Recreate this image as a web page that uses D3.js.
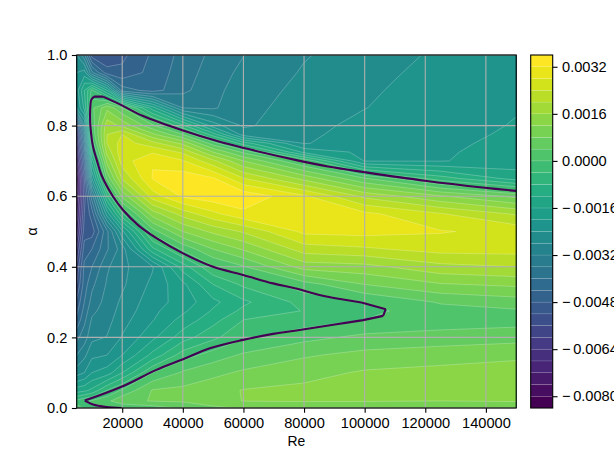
<!DOCTYPE html>
<html>
<head>
<meta charset="utf-8">
<script src="https://cdn.jsdelivr.net/npm/d3@7"></script>
<style>
  html, body { margin: 0; padding: 0; background: #fff; overflow: hidden; }
  text { font-family: "Liberation Sans", Arial, sans-serif; fill: #000; }
</style>
</head>
<body>
<svg id="chart" width="614" height="459"></svg>
<script>
// growth rate grid, values in units of 1e-4, rows follow alphaValues and columns follow reValues
const reValues = [5000, 7500, 10000, 15000, 20000, 30000, 40000, 50000, 60000, 80000, 100000, 125000, 150000]
const alphaValues = [0, 0.02, 0.05, 0.1, 0.15, 0.2, 0.25, 0.275, 0.3, 0.35, 0.4, 0.45, 0.5, 0.55, 0.6, 0.65, 0.7, 0.725, 0.75, 0.775, 0.8, 0.85, 0.9, 0.95, 1]
const growthRate = [
  [3, -1, -1, -0.5, 0.2, 2, 5, 7, 8.5, 9, 9.5, 10, 10],
  [-3, -1, 0.5, 3, 7, 8.2, 8.5, 10.5, 12.1, 12.3, 12.2, 12, 12.2],
  [-14, -13, -11, -4, 0.6, 8.3, 9, 10.5, 12.2, 13, 14, 14, 13.8],
  [-26, -24, -20, -18, -12, 0, 4.6, 6.9, 8.7, 10.6, 12.5, 13.4, 13.8],
  [-32, -29, -25, -24, -20, -10.8, -2, 1.9, 4.6, 7.5, 9.2, 10, 11.2],
  [-37, -34, -29, -27.8, -23.7, -17, -9.8, -5, -0.6, 2.8, 5, 6, 6.5],
  [-43, -37, -31.5, -29.5, -25.5, -20.3, -14.6, -9.5, -4, -2.5, 0, 1.3, 2.2],
  [-45, -38.5, -33, -30, -26.5, -21, -16.8, -11.5, -7, -3.8, -1.2, 2.5, 3.5],
  [-47, -40, -34.5, -30.5, -27.2, -21.7, -18.4, -13, -8.8, -2.6, 0.1, 4.4, 6.1],
  [-52, -42, -37, -31.5, -28.7, -23, -17, -8, -3.2, 2.2, 8, 11.6, 12.8],
  [-55, -43, -40, -32.6, -29, -24.4, -10, -0.3, 3.6, 13.8, 14.7, 18.8, 20],
  [-60, -46, -44, -36.5, -30, -9, 1, 8, 12.5, 22, 23.3, 25.5, 25.6],
  [-66, -50, -50, -37, -21, 2.2, 12, 17, 20.5, 29, 29.5, 28.3, 26.8],
  [-70, -52, -46, -22, -4.6, 14, 21.7, 27, 31, 31.8, 29, 24.3, 19.5],
  [-73, -54, -38, -8, 9, 26, 32.6, 34.5, 35, 28.7, 19, 12.5, 7],
  [-76, -52, -24, 5, 20.5, 32.2, 34.5, 32.6, 24.3, 14.8, 4.5, -6, -13.5],
  [-68, -46, -14, 13.5, 26, 31.8, 28.4, 21, 12, -0.5, -20.3, -20.2, -18.5],
  [-65, -42, -8, 17.5, 26.7, 27.5, 23.2, 12, 3.2, -17, -21, -20.4, -18.8],
  [-62, -38, -3, 20, 26, 21.5, 15, 2, -10, -24.3, -21.5, -20.8, -19],
  [-58, -34, 0.3, 20, 24, 13, 4, -10, -26, -25, -22, -21, -19.5],
  [-50, -28, 1, 18.5, 15, 5, -7, -22, -28.6, -25.5, -22.7, -21.2, -19.8],
  [-24, -15, 3, 11, 4.5, -14, -32, -32.5, -29.3, -26.2, -24.1, -21.6, -20.2],
  [-22, -12, -3, -16, -38, -41.7, -37, -33.2, -30, -26.9, -24.7, -22, -20.4],
  [-24, -22, -35, -46, -47, -42.5, -38, -34, -31, -27.6, -25.4, -22.6, -20.6],
  [-28, -35, -50, -52, -49, -43.3, -38.7, -35, -32.1, -28.3, -26.1, -23.3, -20.8]
]

// neutral curve
const neutralRe = [150000, 139640, 119840, 100040, 87830, 78590, 59880, 52190, 40080, 26880, 19750, 13680, 10710, 9790, 9520, 9390, 9520, 10380, 11600, 13150, 16980, 20280, 25230, 31300, 40080, 49980, 59880, 69780, 76940, 87830, 98950, 106970, 106080, 99480, 91230, 76940, 69780, 59880, 48890, 40080, 31300, 19750, 7640, 10380, 14800, 19750]
const neutralAlpha = [0.615, 0.624, 0.644, 0.668, 0.684, 0.7, 0.737, 0.754, 0.786, 0.827, 0.858, 0.882, 0.882, 0.873, 0.858, 0.83, 0.797, 0.74, 0.703, 0.66, 0.599, 0.561, 0.518, 0.481, 0.438, 0.4, 0.377, 0.353, 0.339, 0.315, 0.299, 0.28, 0.261, 0.249, 0.238, 0.219, 0.21, 0.193, 0.169, 0.138, 0.108, 0.06, 0.021, 0.01, 0.003, 0]
// the curve has sharp corners at these points
const neutralCorners = [0, 11, 12, 30, 31, 32, 33, 42, 45]

const levels = d3.range(-84, 37, 4)
const reTicks = [20000, 40000, 60000, 80000, 100000, 120000, 140000]
const alphaTicks = [0, 0.2, 0.4, 0.6, 0.8, 1]
const barTicks = [-80, -64, -48, -32, -16, 0, 16, 32]

const plotLeft = 76.75, plotRight = 516.2, plotTop = 55, plotBottom = 408
const barLeft = 530.7, barRight = 552.7
const tickLen = 4.86, fontSize = 14.6

const svg = d3.select('#chart')
const x = d3.scaleLinear().domain([5000, 150000]).range([plotLeft, plotRight])
const y = d3.scaleLinear().domain([0, 1]).range([plotBottom, plotTop])
const barY = d3.scaleLinear().domain([-84, 36]).range([plotBottom, plotTop])

const bandColor = i => d3.interpolateViridis(i / (levels.length - 2))

// the grid is not evenly spaced, so grid indices get mapped to Re and alpha
const reOfIndex = d3.scaleLinear().domain(d3.range(reValues.length)).range(reValues)
const alphaOfIndex = d3.scaleLinear().domain(d3.range(alphaValues.length)).range(alphaValues)
const gridPath = d3.geoPath(d3.geoTransform({
  point(px, py) {
    this.stream.point(x(reOfIndex(px - 0.5)), y(alphaOfIndex(py - 0.5)))
  }
}))

svg.append('defs').append('clipPath').attr('id', 'plotClip')
  .append('rect')
  .attr('x', plotLeft).attr('y', plotTop)
  .attr('width', plotRight - plotLeft).attr('height', plotBottom - plotTop)

const field = svg.append('g').attr('clip-path', 'url(#plotClip)')
field.append('rect')
  .attr('x', plotLeft).attr('y', plotTop)
  .attr('width', plotRight - plotLeft).attr('height', plotBottom - plotTop)
  .attr('fill', bandColor(0))

const contours = d3.contours()
  .size([reValues.length, alphaValues.length])
  .thresholds(levels.slice(1, -1))(growthRate.flat())

field.selectAll('path.band').data(contours).enter().append('path')
  .attr('class', 'band')
  .attr('d', gridPath)
  .attr('fill', (d, i) => bandColor(i + 1))
  .attr('stroke', '#fff')
  .attr('stroke-opacity', 0.4)
  .attr('stroke-width', 0.6)

// grid
const grid = svg.append('g').attr('stroke', '#b0b0b0').attr('stroke-width', 1.1)
grid.selectAll('line.vgrid').data(reTicks).enter().append('line')
  .attr('class', 'vgrid')
  .attr('x1', d => x(d)).attr('x2', d => x(d)).attr('y1', plotTop).attr('y2', plotBottom)
grid.selectAll('line.hgrid').data(alphaTicks).enter().append('line')
  .attr('class', 'hgrid')
  .attr('x1', plotLeft).attr('x2', plotRight).attr('y1', d => y(d)).attr('y2', d => y(d))

// neutral curve, smooth between the corners
const neutralPoints = d3.zip(neutralRe, neutralAlpha)
const neutralLine = d3.line().x(d => x(d[0])).y(d => y(d[1])).curve(d3.curveCatmullRom.alpha(0.5))
svg.append('path')
  .attr('clip-path', 'url(#plotClip)')
  .attr('d', d3.pairs(neutralCorners).map(([a, b]) => neutralLine(neutralPoints.slice(a, b + 1))).join(''))
  .attr('fill', 'none')
  .attr('stroke', bandColor(0))
  .attr('stroke-width', 2.1)
  .attr('stroke-linejoin', 'round')

// spines
svg.append('rect')
  .attr('x', plotLeft).attr('y', plotTop)
  .attr('width', plotRight - plotLeft).attr('height', plotBottom - plotTop)
  .attr('fill', 'none').attr('stroke', '#000').attr('stroke-width', 1.1)

const styleAxis = g => {
  g.select('.domain').remove()
  g.selectAll('.tick line').attr('stroke', '#000').attr('stroke-width', 1.1)
  g.selectAll('.tick text').attr('font-size', fontSize).attr('font-family', null)
}

svg.append('g')
  .attr('transform', `translate(0,${plotBottom})`)
  .call(d3.axisBottom(x).tickValues(reTicks).tickFormat(d3.format('d')).tickSize(tickLen).tickPadding(4.5))
  .call(styleAxis)

svg.append('g')
  .attr('transform', `translate(${plotLeft},0)`)
  .call(d3.axisLeft(y).tickValues(alphaTicks).tickFormat(d3.format('.1f')).tickSize(tickLen).tickPadding(4.5))
  .call(styleAxis)

svg.append('text')
  .attr('x', (plotLeft + plotRight) / 2).attr('y', 446)
  .attr('text-anchor', 'middle').attr('font-size', 13.9)
  .text('Re')

svg.append('text')
  .attr('transform', 'translate(37,231.5) rotate(-90)')
  .attr('text-anchor', 'middle').attr('font-size', 13.9)
  .text('α')

// colorbar
const bar = svg.append('g')
bar.selectAll('rect').data(levels.slice(0, -1)).enter().append('rect')
  .attr('x', barLeft)
  .attr('width', barRight - barLeft)
  .attr('y', d => barY(d + 4))
  .attr('height', d => barY(d) - barY(d + 4))
  .attr('fill', (d, i) => bandColor(i))
  .attr('stroke', '#fff').attr('stroke-opacity', 0.2).attr('stroke-width', 0.5)
bar.append('rect')
  .attr('x', barLeft).attr('y', plotTop)
  .attr('width', barRight - barLeft).attr('height', plotBottom - plotTop)
  .attr('fill', 'none').attr('stroke', '#000').attr('stroke-width', 1.1)

const barAxis = svg.append('g')
  .attr('transform', `translate(${barRight},0)`)
  .call(d3.axisRight(barY).tickValues(barTicks).tickFormat(d => (Math.abs(d) / 1e4).toFixed(4)).tickSize(tickLen).tickPadding(4.5))
  .call(styleAxis)

// minus sign sits apart from the digits, like the reference
barAxis.selectAll('.tick text').each(function(d) {
  if (d >= 0) return
  const label = d3.select(this), digits = label.text()
  label.text('')
  label.append('tspan').text('\u2212')
  label.append('tspan').attr('dx', 2.6).text(digits)
})
</script>
</body>
</html>
